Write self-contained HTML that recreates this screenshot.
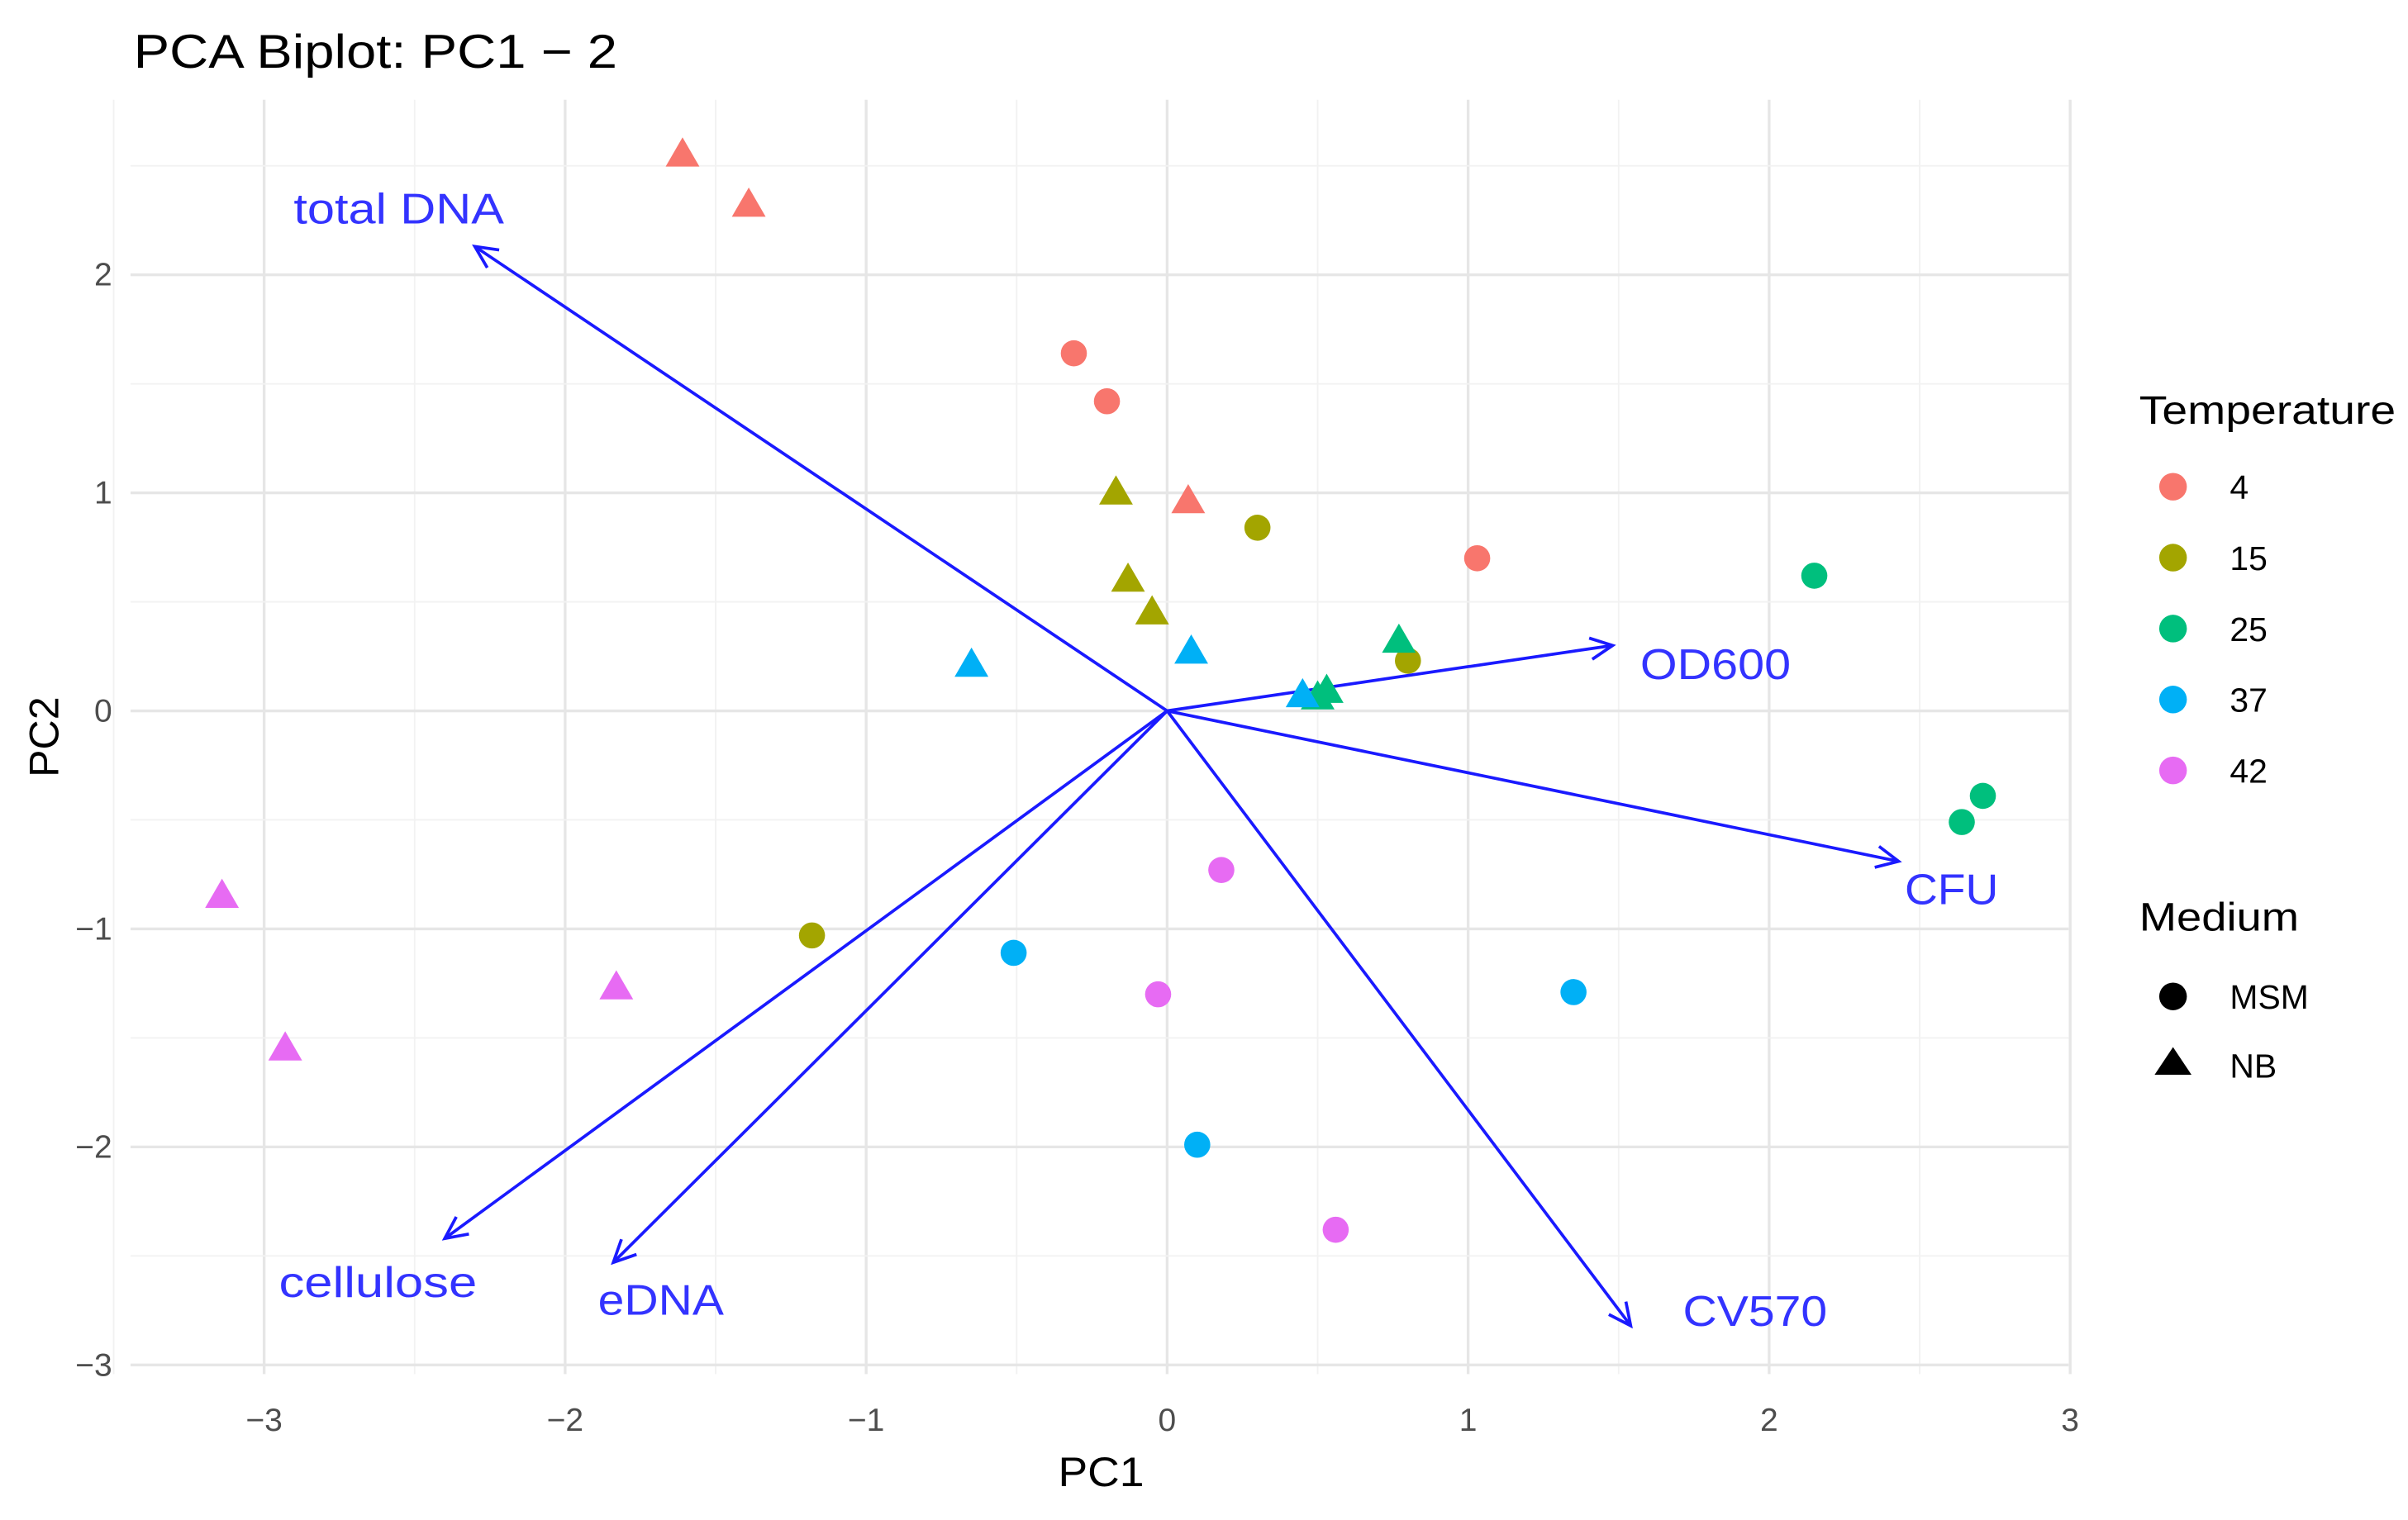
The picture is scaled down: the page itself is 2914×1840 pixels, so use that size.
<!DOCTYPE html>
<html><head><meta charset="utf-8"><style>
html,body{margin:0;padding:0;background:#fff;}
svg{display:block;font-family:"Liberation Sans",sans-serif;}
</style></head><body>
<svg id="chart" width="2914" height="1840" viewBox="0 0 1568 990" preserveAspectRatio="none" xmlns="http://www.w3.org/2000/svg">
<g id="grid"></g>
<g id="arrows"></g>
<g id="points"></g>
<g id="axes"></g>
<text x="87" y="44" font-size="31" textLength="315" lengthAdjust="spacingAndGlyphs" fill="#000">PCA Biplot: PC1 − 2</text>
<text x="689" y="968" font-size="27" textLength="56" lengthAdjust="spacingAndGlyphs" fill="#000">PC1</text>
<text transform="translate(38,480) rotate(-90)" text-anchor="middle" font-size="27" fill="#000">PC2</text>
<g id="legend"></g>
</svg>
<script>
const xTicks=[-3,-2,-1,0,1,2,3];
const yTicks=[-3,-2,-1,0,1,2];
const temps=["4","15","25","37","42"];
const tempColors=["#F8766D","#A3A500","#00BF7D","#00B0F6","#E76BF3"];
const ptX=[-1.61,-1.39,0.07,-0.31,-0.20,1.03, -0.17,-0.13,-0.05,0.30,0.80,-1.18, 2.15,2.71,2.64,0.77,0.53,0.50, -0.65,0.08,0.45,-0.51,1.35,0.10, -3.14,-2.93,-1.83,0.18,-0.03,0.56];
const ptY=[2.56,2.33,0.97,1.64,1.42,0.70, 1.01,0.61,0.46,0.84,0.23,-1.03, 0.62,-0.39,-0.51,0.33,0.10,0.07, 0.22,0.28,0.08,-1.11,-1.29,-1.99, -0.84,-1.54,-1.26,-0.73,-1.30,-2.38];
const ptTemp=["4","4","4","4","4","4","15","15","15","15","15","15","25","25","25","25","25","25","37","37","37","37","37","37","42","42","42","42","42","42"];
const ptMedium=["NB","NB","NB","MSM","MSM","MSM","NB","NB","NB","MSM","MSM","MSM","MSM","MSM","MSM","NB","NB","NB","NB","NB","NB","MSM","MSM","MSM","NB","NB","NB","MSM","MSM","MSM"];
const varNames=["total DNA","OD600","CFU","CV570","eDNA","cellulose"];
const varX=[-2.30,1.48,2.43,1.54,-1.84,-2.40];
const varY=[2.13,0.30,-0.69,-2.82,-2.53,-2.42];

const NS="http://www.w3.org/2000/svg";
const sx=v=>760+v*196, sy=v=>463-v*142;
const L={x0:85,x1:1347,y0:65,y1:895};
function mk(tag,attrs,parent){const e=document.createElementNS(NS,tag);for(const k in attrs)e.setAttribute(k,attrs[k]);parent.appendChild(e);return e;}
const grid=document.getElementById('grid'),axes=document.getElementById('axes');
for(let v=-3.5;v<=3;v+=0.5){const maj=Number.isInteger(v);
 const l=mk('line',{x1:sx(v),x2:sx(v),y1:L.y0,y2:L.y1,stroke:maj?'#e6e6e6':'#f2f2f2','stroke-width':maj?1.8:1},grid);
 
 }
for(let v=-3;v<=2.5;v+=0.5){const maj=Number.isInteger(v);
 const l=mk('line',{x1:L.x0,x2:L.x1,y1:sy(v),y2:sy(v),stroke:maj?'#e6e6e6':'#f2f2f2','stroke-width':maj?1.8:1},grid);
 
 }
xTicks.forEach(t=>{const e=mk('text',{x:sx(t),y:932,'text-anchor':'middle','font-size':21,fill:'#4d4d4d'},axes);e.textContent=t<0?'−'+(-t):t;
 
 });
yTicks.forEach(t=>{const e=mk('text',{x:73,y:sy(t)+7,'text-anchor':'end','font-size':21,fill:'#4d4d4d'},axes);e.textContent=t<0?'−'+(-t):t;
 
 });
const ar=document.getElementById('arrows');
const lblOff=[[-118,-15],[18,22],[4,28],[34,0],[-10,34],[-108,38]];
const lblLen=[137,98,61,94,82,129];
varNames.forEach((n,i)=>{const x2=sx(varX[i]),y2=sy(varY[i]);
 const ln=mk('line',{x1:sx(0),y1:sy(0),x2:x2,y2:y2,stroke:'#1a1aff','stroke-width':2},ar);
 
 
 const a=Math.atan2(y2-sy(0),x2-sx(0)),h=16,w=0.45;
 const hd=mk('polyline',{points:`${x2-h*Math.cos(a-w)},${y2-h*Math.sin(a-w)} ${x2},${y2} ${x2-h*Math.cos(a+w)},${y2-h*Math.sin(a+w)}`,fill:'none',stroke:'#1a1aff','stroke-width':2},ar);
 
 
 const t=mk('text',{x:x2+lblOff[i][0],y:y2+lblOff[i][1],'font-size':28,fill:'#3333ff',textLength:lblLen[i],lengthAdjust:'spacingAndGlyphs'},ar);t.textContent=n;
 
 });
const pg=document.getElementById('points');
ptX.forEach((x,i)=>{const c=tempColors[temps.indexOf(ptTemp[i])],px=sx(x),py=sy(ptY[i]);let e;
 if(ptMedium[i]==='MSM')e=mk('circle',{cx:px,cy:py,r:8.5,fill:c},pg);
 else e=mk('polygon',{points:`${px},${py-10} ${px+11},${py+9} ${px-11},${py+9}`,fill:c},pg);
 
 });
const lg=document.getElementById('legend');
let t=mk('text',{x:1393,y:276,'font-size':26,fill:'#000',textLength:167,lengthAdjust:'spacingAndGlyphs'},lg);t.textContent='Temperature';


temps.forEach((n,i)=>{const y=317+i*46.2;
 const c=mk('circle',{cx:1415,cy:y,r:9,fill:tempColors[i]},lg);
 
 
 const e=mk('text',{x:1452,y:y+8,'font-size':22,fill:'#000'},lg);e.textContent=n;
 
 });
t=mk('text',{x:1393,y:606,'font-size':26,fill:'#000',textLength:104,lengthAdjust:'spacingAndGlyphs'},lg);t.textContent='Medium';


let c=mk('circle',{cx:1415,cy:649,r:9,fill:'#000'},lg);


c=mk('polygon',{points:'1415,682 1427,700 1403,700',fill:'#000'},lg);


t=mk('text',{x:1452,y:657,'font-size':22,fill:'#000'},lg);t.textContent='MSM';


t=mk('text',{x:1452,y:702,'font-size':22,fill:'#000'},lg);t.textContent='NB';


</script>
</body></html>
